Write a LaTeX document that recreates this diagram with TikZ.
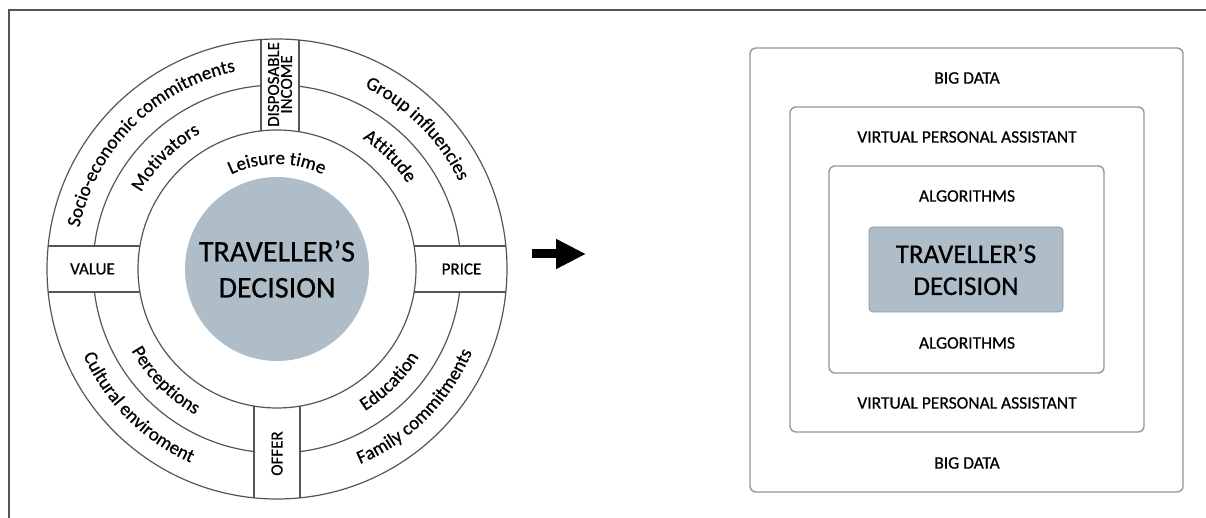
\documentclass[tikz,border=0pt]{standalone}
\usepackage{fontspec}
\setmainfont{Carlito}[FakeBold=0.6]
\usetikzlibrary{arrows.meta,decorations.text}
\definecolor{decgray}{RGB}{174,189,199}
\definecolor{linegray}{RGB}{85,85,85}
\definecolor{boxgray}{RGB}{150,150,150}
\definecolor{inkgray}{RGB}{20,20,20}
\newcommand{\ringfont}{\fontsize{19}{19}\selectfont}

\begin{document}
\begin{tikzpicture}[x=1pt,y=1pt,font=\color{inkgray}]
	\tikzstyle{ring}=[draw=linegray, line width=1.2pt]
	\tikzstyle{cell}=[draw=linegray, line width=1.2pt, fill=white, inner sep=0pt, align=center, font=\fontsize{17}{13}\selectfont]
	\tikzstyle{layer}=[draw=boxgray, line width=1.4pt, rounded corners=6pt, inner sep=0pt]
	\tikzstyle{core}=[fill=decgray, draw=decgray!80!black, line width=0.8pt, rounded corners=4pt, align=center, font=\fontsize{27}{32}\selectfont]
	\tikzstyle{tag}=[inner sep=1pt, font=\fontsize{17.5}{17.5}\selectfont]
	\tikzset{arctext/.style={decorate, decoration={text along path, text align=center, text={#1}}}}

	\fill[white] (0,0) rectangle (1206,518);
	\useasboundingbox (0,0) rectangle (1206,518);

	% frame
	\coordinate (f1) at (1206,508);
	\coordinate (f2) at (9,508);
	\coordinate (f3) at (9,0);
	\draw[draw=linegray, line width=1.3pt] (f1) -- (f2) -- (f3);

	% wheel
	\coordinate (c) at (277,249);
	\node[circle, fill=decgray, minimum size=184pt, align=center, font=\fontsize{30}{36}\selectfont] (dec) at (c) {TRAVELLER'S\\DECISION};

	\begin{scope}
		\clip (c) ++(0:230) arc[start angle=0, end angle=360, radius=230]
		      (c) ++(0:139) arc[start angle=360, end angle=0, radius=139];
		\draw[ring] (c) circle[radius=184];
		\node[cell, rotate=90, minimum width=100, minimum height=38] (income) at (280,433.5) {DISPOSABLE\\INCOME};
		\node[cell, minimum width=100, minimum height=46] (value) at (92.5,249) {VALUE};
		\node[cell, minimum width=100, minimum height=46] (price) at (461.5,249) {PRICE};
		\node[cell, rotate=90, minimum width=100, minimum height=46] (offer) at (277,64.5) {OFFER};
	\end{scope}
	\draw[ring] (c) circle[radius=230];
	\draw[ring] (c) circle[radius=139];

	\path[arctext={|\ringfont|Socio-economic commitments}] (c) ++(180:202) arc[start angle=180, end angle=90, radius=202];
	\path[arctext={|\ringfont|Group influencies}] (c) ++(90:202) arc[start angle=90, end angle=0, radius=202];
	\path[arctext={|\ringfont|Cultural enviroment}] (c) ++(180:212) arc[start angle=180, end angle=270, radius=212];
	\path[arctext={|\ringfont|Family commitments}] (c) ++(270:212) arc[start angle=270, end angle=360, radius=212];
	\path[arctext={|\ringfont|Motivators}] (c) ++(180:156) arc[start angle=180, end angle=90, radius=156];
	\path[arctext={|\ringfont|Attitude}] (c) ++(90:156) arc[start angle=90, end angle=0, radius=156];
	\path[arctext={|\ringfont|Perceptions}] (c) ++(180:167) arc[start angle=180, end angle=270, radius=167];
	\path[arctext={|\ringfont|Education}] (c) ++(270:167) arc[start angle=270, end angle=360, radius=167];
	\path[arctext={|\ringfont|Leisure time}] (c) ++(180:105) arc[start angle=180, end angle=0, radius=105];

	% arrow
	\coordinate (a1) at (532,264);
	\coordinate (a2) at (586,264);
	\draw[line width=9pt, -{Triangle[length=30pt, width=28pt]}] (a1) -- (a2);

	% layers
	\node[layer, minimum width=433, minimum height=444] (bigdata) at (966.5,248) {};
	\node[layer, minimum width=354, minimum height=325] (vpa) at (967,248.5) {};
	\node[layer, minimum width=275, minimum height=207] (algo) at (966.5,248.5) {};
	\node[core, minimum width=194, minimum height=85] (core) at (966,248.5) {TRAVELLER'S\\DECISION};

	\node[tag] (bd1) at (967,440) {BIG DATA};
	\node[tag] (va1) at (967,381) {VIRTUAL PERSONAL ASSISTANT};
	\node[tag] (al1) at (967,322) {ALGORITHMS};
	\node[tag] (al2) at (967,175) {ALGORITHMS};
	\node[tag] (va2) at (967,115) {VIRTUAL PERSONAL ASSISTANT};
	\node[tag] (bd2) at (967,55) {BIG DATA};
\end{tikzpicture}
\end{document}
